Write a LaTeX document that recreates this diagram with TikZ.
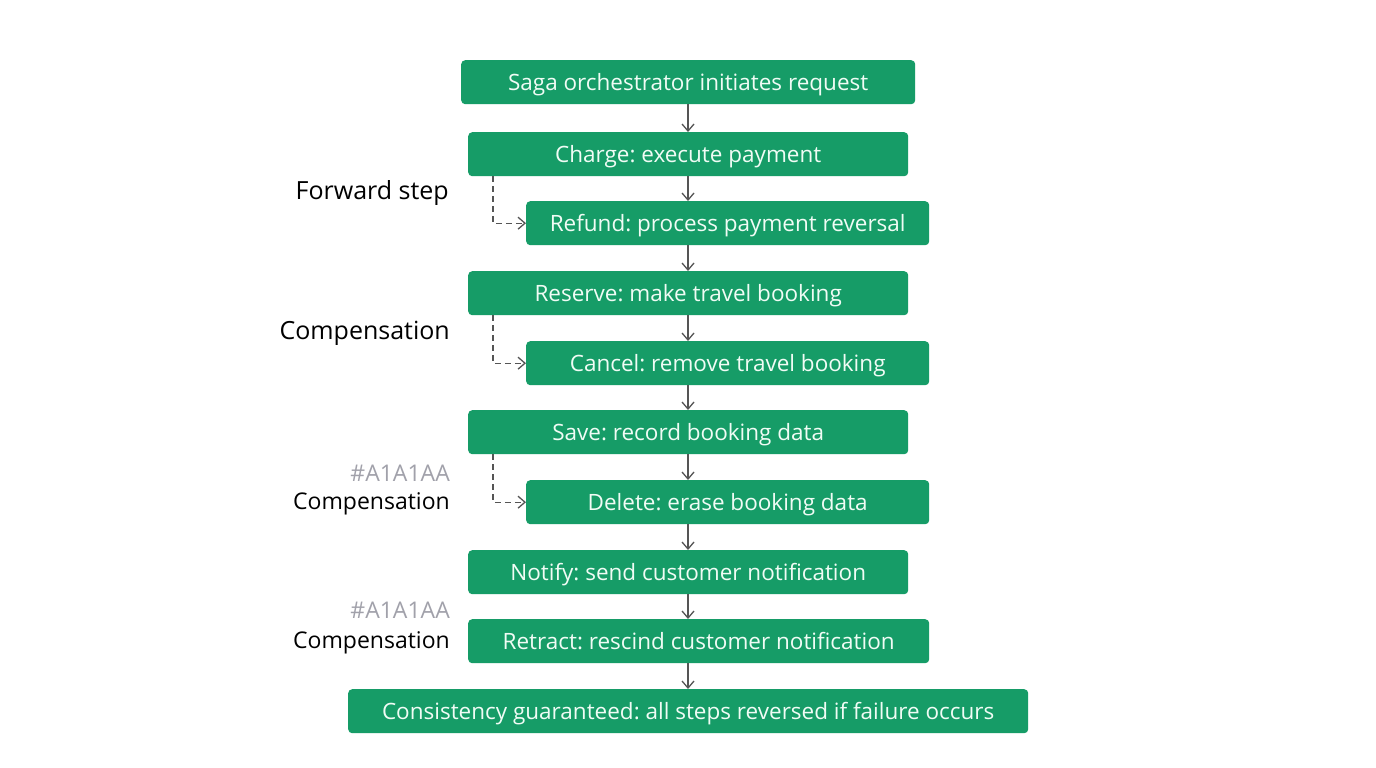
\documentclass[tikz,border=0pt]{standalone}
\usepackage{fontspec}
\setmainfont{Open Sans}
\frenchspacing
\usetikzlibrary{arrows.meta}
\definecolor{boxgreen}{RGB}{22,156,103}
\definecolor{boxtext}{RGB}{240,252,245}
\definecolor{linegray}{RGB}{85,85,85}
\definecolor{hexgray}{RGB}{161,161,170}
\tikzset{
  x=1pt,y=-1pt,
  stepbox/.style={draw=none,fill=boxgreen,rounded corners=4pt,text=boxtext,
    font=\fontsize{22.5}{26}\selectfont,inner sep=0pt,anchor=north west,
    text height=16.1pt,text depth=0pt},
  flow/.style={draw=linegray,line width=1.3pt,-{Straight Barb[length=7pt,width=12pt]}},
  comp/.style={draw=linegray,line width=1.3pt,dashed,dash pattern=on 6pt off 4pt,-{Straight Barb[length=7pt,width=12pt]}},
  lbl/.style={anchor=east,font=\fontsize{25}{28}\selectfont,text=black,inner sep=0pt,
    text height=17.9pt,text depth=0pt},
  lblsm/.style={anchor=east,font=\fontsize{23}{26}\selectfont,text=black,inner sep=0pt,
    text height=16.4pt,text depth=0pt},
  hex/.style={lblsm,text=hexgray},
}
\begin{document}
\begin{tikzpicture}
\fill[white] (0,0) rectangle (1376,768);
\node[stepbox,minimum width=454pt,minimum height=44pt] (b1) at (461,60) {Saga orchestrator initiates request};
\node[stepbox,minimum width=440pt,minimum height=44pt] (b2) at (468,132) {Charge: execute payment};
\node[stepbox,minimum width=403pt,minimum height=44pt] (b3) at (526,201) {Refund: process payment reversal};
\node[stepbox,minimum width=440pt,minimum height=44pt] (b4) at (468,271) {Reserve: make travel booking};
\node[stepbox,minimum width=403pt,minimum height=44pt] (b5) at (526,341) {Cancel: remove travel booking};
\node[stepbox,minimum width=440pt,minimum height=44pt] (b6) at (468,410) {Save: record booking data};
\node[stepbox,minimum width=403pt,minimum height=44pt] (b7) at (526,480) {Delete: erase booking data};
\node[stepbox,minimum width=440pt,minimum height=44pt] (b8) at (468,550) {Notify: send customer notification};
\node[stepbox,minimum width=461pt,minimum height=44pt] (b9) at (468,619) {Retract: rescind customer notification};
\node[stepbox,minimum width=680pt,minimum height=44pt] (b10) at (348,689) {Consistency guaranteed: all steps reversed if failure occurs};
% vertical flow arrows
\coordinate (c1) at (688,104); \coordinate (c2) at (688,132);
\draw[flow] (c1) -- (c2);
\coordinate (c3) at (688,176); \coordinate (c4) at (688,201);
\draw[flow] (c3) -- (c4);
\coordinate (c5) at (688,245); \coordinate (c6) at (688,271);
\draw[flow] (c5) -- (c6);
\coordinate (c7) at (688,315); \coordinate (c8) at (688,341);
\draw[flow] (c7) -- (c8);
\coordinate (c9) at (688,385); \coordinate (c10) at (688,410);
\draw[flow] (c9) -- (c10);
\coordinate (c11) at (688,454); \coordinate (c12) at (688,480);
\draw[flow] (c11) -- (c12);
\coordinate (c13) at (688,524); \coordinate (c14) at (688,550);
\draw[flow] (c13) -- (c14);
\coordinate (c15) at (688,594); \coordinate (c16) at (688,619);
\draw[flow] (c15) -- (c16);
\coordinate (c17) at (688,663); \coordinate (c18) at (688,689);
\draw[flow] (c17) -- (c18);
% compensation dashed arrows
\coordinate (d1) at (493,176); \draw[comp] (d1) |- (b3.west);
\coordinate (d2) at (493,315); \draw[comp] (d2) |- (b5.west);
\coordinate (d3) at (493,454); \draw[comp] (d3) |- (b7.west);
% labels
\node[lbl] (l1) at (449,191) {Forward step};
\node[lbl] (l2) at (450,330.5) {Compensation};
\node[hex] (h1) at (450,473) {\#A1A1AA};
\node[lblsm] (l3) at (450,501) {Compensation};
\node[hex] (h2) at (450,610.5) {\#A1A1AA};
\node[lblsm] (l4) at (450,640) {Compensation};
\end{tikzpicture}
\end{document}
